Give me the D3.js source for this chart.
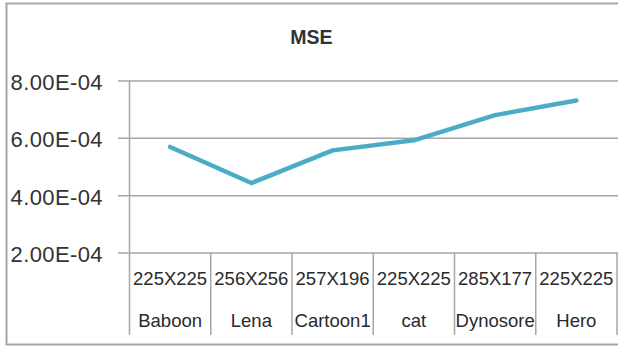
<!DOCTYPE html>
<html><head><meta charset="utf-8">
<script src="https://cdn.jsdelivr.net/npm/d3@7"></script>
<style>html,body{margin:0;padding:0;background:#fff;}svg{display:block;}</style>
</head><body>
<svg id="c" width="618" height="349"></svg>
<script>
const categories = ["Baboon","Lena","Cartoon1","cat","Dynosore","Hero"];
const sizes = ["225X225","256X256","257X196","225X225","285X177","225X225"];
const mseValues = [5.70e-4, 4.44e-4, 5.58e-4, 5.93e-4, 6.81e-4, 7.32e-4];
const yTicks = [2e-4, 4e-4, 6e-4, 8e-4];
const title = "MSE";

const svg = d3.select("#c");
const font = "'Liberation Sans', Arial, sans-serif";
const gridColor = "#a6a6a6";
const textColor = "#333";

// outer border
svg.append("path").attr("d","M621,3.5 H6.5 V344.5 H621")
  .attr("fill","none").attr("stroke","#a6a6a6").attr("stroke-width",2);

const x = d3.scaleBand().domain(categories).range([129.5, 617]);
const y = d3.scaleLinear().domain([2e-4, 8e-4]).range([253, 81]);

// title
svg.append("text").attr("x",311.5).attr("y",44).attr("text-anchor","middle")
  .attr("font-family",font).attr("font-size",19.5).attr("font-weight","bold")
  .attr("fill",textColor).text(title);

// gridlines + ticks
const yAxis = d3.axisLeft(y).tickValues(yTicks).tickSize(0)
  .tickFormat(d => d3.format(".2e")(d).replace(/e-(\d)$/, "E-0$1").replace("e","E").toUpperCase());
svg.append("g").selectAll("line.grid").data(yTicks).join("line").attr("class","grid")
  .attr("x1",118).attr("x2",618).attr("y1",d=>y(d)).attr("y2",d=>y(d))
  .attr("stroke",gridColor).attr("stroke-width",1.5);
const gyl = svg.append("g").attr("transform","translate(103,0)").call(yAxis);
gyl.select(".domain").remove();
gyl.selectAll("text").attr("font-family",font).attr("font-size",22).attr("fill",textColor)
  .attr("letter-spacing",0.4).attr("dy",null).attr("x",0).attr("y",8.5);

// axis & category dividers
svg.append("line").attr("x1",129.5).attr("x2",129.5).attr("y1",y(8e-4)).attr("y2",335)
  .attr("stroke",gridColor).attr("stroke-width",1.5);
const bounds = categories.map(c => x(c) + x.bandwidth());
svg.selectAll("line.div").data(bounds).join("line").attr("class","div")
  .attr("x1",d=>d).attr("x2",d=>d).attr("y1",y(2e-4)).attr("y2",335)
  .attr("stroke",gridColor).attr("stroke-width",1.5);

// category labels
const cx = d => x(d) + x.bandwidth()/2;
svg.selectAll("text.size").data(categories).join("text").attr("class","size")
  .attr("x",cx).attr("y",285).attr("text-anchor","middle")
  .attr("font-family",font).attr("font-size",18.5).attr("fill","#2a2a2a")
  .text((d,i)=>sizes[i]);
svg.selectAll("text.name").data(categories).join("text").attr("class","name")
  .attr("x",cx).attr("y",327).attr("text-anchor","middle")
  .attr("font-family",font).attr("font-size",18.5).attr("fill","#2a2a2a")
  .text(d=>d);

// line
const line = d3.line().x((d,i)=>cx(categories[i])).y(d=>y(d));
svg.append("path").datum(mseValues).attr("d",line)
  .attr("fill","none").attr("stroke","#4BACC6").attr("stroke-width",4.5)
  .attr("stroke-linejoin","round").attr("stroke-linecap","round");
</script>
</body></html>
